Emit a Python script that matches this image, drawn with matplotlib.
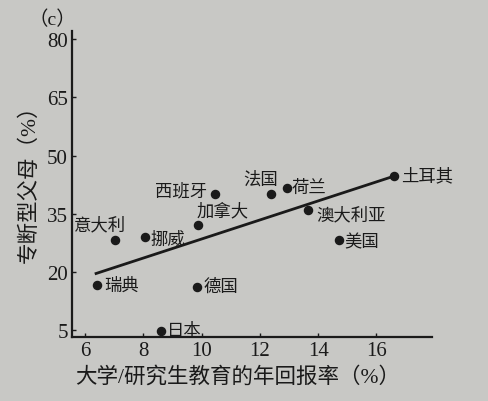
"""专断型父母比例与大学/研究生教育回报率的散点图（图 c）。"""
import matplotlib

matplotlib.use("Agg")
import matplotlib.pyplot as plt

plt.rcParams["font.family"] = ["Liberation Serif", "Noto Sans CJK SC", "DejaVu Sans"]

# 数据
countries = ["瑞典", "意大利", "挪威", "西班牙", "加拿大", "德国", "日本",
             "法国", "荷兰", "澳大利亚", "美国", "土耳其"]
returns = [6.41, 7.03, 8.05, 10.47, 9.89, 9.84, 8.60, 12.37, 12.92, 13.65, 14.70, 16.60]
authoritarian = [16.6, 28.3, 29.1, 40.0, 32.1, 16.1, 4.8, 40.1, 41.6, 36.1, 28.3, 44.7]
fit_x = [6.38, 16.6]
fit_y = [19.6, 44.7]
xticks = [6, 8, 10, 12, 14, 16]
yticks = [5, 20, 35, 50, 65, 80]

# 标签相对点的偏移（像素）与对齐
label_style = {
    "瑞典": ((7, 0), "left"),
    "意大利": ((-15, 15), "center"),
    "挪威": ((6, -3), "left"),
    "西班牙": ((-8, 3), "right"),
    "加拿大": ((-2, 14), "left"),
    "德国": ((7, 0), "left"),
    "日本": ((6, 0), "left"),
    "法国": ((-10, 15), "center"),
    "荷兰": ((5, 0), "left"),
    "澳大利亚": ((8, -6), "left"),
    "美国": ((6, -2), "left"),
    "土耳其": ((7, 0), "left"),
}

bg = "#c8c8c5"
ink = "#1a1a1a"

fig = plt.figure(figsize=(4.89, 4.02), dpi=100, facecolor=bg)
ax = fig.add_axes([0.147, 0.159, 0.736, 0.761], facecolor=bg)

ax.plot(fit_x, fit_y, color=ink, lw=2, zorder=2)
ax.scatter(returns, authoritarian, s=34, color=ink, zorder=3)

for name, x, y in zip(countries, returns, authoritarian):
    off, ha = label_style[name]
    ax.annotate(name, (x, y), xytext=off, textcoords="offset pixels",
                ha=ha, va="center", fontsize=12.5, color=ink)

ax.set_xlim(5.55, 17.9)
ax.set_ylim(3.2, 82.1)
ax.set_xticks(xticks)
ax.set_yticks(yticks)
ax.tick_params(direction="in", length=3, width=1, colors=ink, labelsize=15, pad=3)
for side in ("top", "right"):
    ax.spines[side].set_visible(False)
for side in ("left", "bottom"):
    ax.spines[side].set_linewidth(1.6)
    ax.spines[side].set_color(ink)

ax.set_xlabel("大学/研究生教育的年回报率（%）", fontsize=15.5, color=ink)
ax.xaxis.set_label_coords(0.46, -0.095)
ax.set_ylabel("专断型父母（%）", fontsize=15.5, color=ink)
ax.yaxis.set_label_coords(-0.089, 0.52)

fig.text(52 / 489, 1 - 20 / 402, "（c）", ha="center", va="center", fontsize=14, color=ink)

fig.savefig("out.png", dpi=100, facecolor=bg)
